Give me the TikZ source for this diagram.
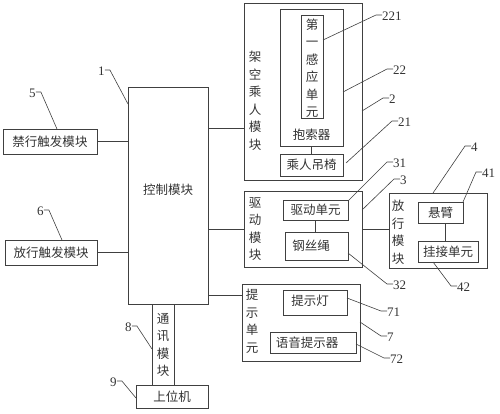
\documentclass[tikz,border=0pt]{standalone}
\usepackage{fontspec}
\setmainfont{Liberation Serif}
\newfontfamily\cjk{Noto Sans CJK SC}
\begin{document}
\begin{tikzpicture}[x=1pt,y=-1pt,
  lc/.style={draw=black!75,line width=0.7pt},
  box/.style={lc,inner sep=0pt,minimum width=#1},
  txt/.style={font=\cjk\fontsize{12.5}{17.5}\selectfont,text=black!80,inner sep=0pt,align=center},
  num/.style={font=\fontsize{13}{13}\selectfont,text=black!80,inner sep=0pt,anchor=west},
  lead/.style={draw=black!75,line width=0.6pt}]
\useasboundingbox (0,0) rectangle (500,413);
% left modules
\node[box=80pt,minimum height=217pt] (ctrl) at (168,195.5) {};
\node[txt] (ctrlt) at (168,190) {控制模块};
\node[box=22pt,minimum height=81pt] (comm) at (163,344.5) {};
\node[txt] (commt) at (163,345) {通\\讯\\模\\块};
\node[box=72pt,minimum height=23pt,txt] (host) at (172,396.5) {上位机};
\node[box=94pt,minimum height=25pt,txt] (ban) at (50,141.5) {禁行触发模块};
\node[box=92pt,minimum height=25pt,txt] (pass) at (51,252.5) {放行触发模块};
% overhead module
\node[box=118pt,minimum height=177pt] (air) at (303,91.5) {};
\node[txt] (airt) at (255,101) {架\\空\\乘\\人\\模\\块};
\node[box=63pt,minimum height=137pt] (clamp) at (311.5,77.5) {};
\node[txt] (clampt) at (311.5,135) {抱索器};
\node[box=22pt,minimum height=103pt] (sensor) at (312,66.5) {};
\node[txt] (sensort) at (312,68) {第\\一\\感\\应\\单\\元};
\node[box=63pt,minimum height=22pt,txt] (chair) at (311.5,165) {乘人吊椅};
% drive module
\node[box=118pt,minimum height=76pt] (drive) at (303,229) {};
\node[txt] (drivet) at (255,229) {驱\\动\\模\\块};
\node[box=65pt,minimum height=20pt,txt] (dunit) at (315.5,210) {驱动单元};
\node[box=63pt,minimum height=28pt] (rope) at (316.5,246) {};
\node[txt] (ropet) at (311,246) {钢丝绳};
% release module
\node[box=98pt,minimum height=75pt] (rel) at (438,230.5) {};
\node[txt] (relt) at (398,232) {放\\行\\模\\块};
\node[box=45pt,minimum height=21pt,txt] (arm) at (440.5,212.5) {悬臂};
\node[box=60pt,minimum height=21pt,txt] (hook) at (448,251.5) {挂接单元};
% prompt unit
\node[box=118pt,minimum height=77pt] (prompt) at (301,322.5) {};
\node[txt] (promptt) at (252,321) {提\\示\\单\\元};
\node[box=64pt,minimum height=25pt] (lamp) at (315,302.5) {};
\node[txt] (lampt) at (310,301) {提示灯};
\node[box=86pt,minimum height=21pt] (voice) at (313,342.5) {};
\node[txt] (voicet) at (307,342.5) {语音提示器};
% connectors
\coordinate (y1) at (0,128);
\coordinate (y2) at (0,295);
\coordinate (x1) at (445,0);
\draw[lc] (ban.east) -- (ban.east -| ctrl.west);
\draw[lc] (pass.east) -- (pass.east -| ctrl.west);
\draw[lc] (ctrl.east |- y1) -- (air.west |- y1);
\draw[lc] (ctrl.east |- drive.west) -- (drive.west);
\draw[lc] (drive.east) -- (drive.east -| rel.west);
\draw[lc] (ctrl.east |- y2) -- (prompt.west |- y2);
\draw[lc] (clamp.south) -- (clamp.south |- chair.north);
\draw[lc] (dunit.south) -- (dunit.south |- rope.north);
\draw[lc] (arm.south -| x1) -- (hook.north -| x1);
% labels
\node[num] (n221) at (382,16) {221};
\node[num] (n22) at (393,70) {22};
\node[num] (n2) at (389,99) {2};
\node[num] (n21) at (398,122) {21};
\node[num] (n31) at (393,163) {31};
\node[num] (n3) at (400,180) {3};
\node[num] (n4) at (471,147) {4};
\node[num] (n41) at (482,173) {41};
\node[num] (n32) at (393,285) {32};
\node[num] (n42) at (457,287) {42};
\node[num] (n71) at (387,312) {71};
\node[num] (n7) at (387,337) {7};
\node[num] (n72) at (390,359) {72};
\node[num] (n5) at (29,93) {5};
\node[num] (n6) at (37,211) {6};
\node[num] (n1) at (98,71) {1};
\node[num] (n8) at (125,327) {8};
\node[num] (n9) at (110,382) {9};
% leader end points
\coordinate (p221) at (323,40);
\coordinate (p22) at (343,92);
\coordinate (p2) at (362,111);
\coordinate (p21) at (346,163);
\coordinate (p31) at (348,201);
\coordinate (p3) at (362,210);
\coordinate (p4) at (433,193);
\coordinate (p41) at (463,202);
\coordinate (p32) at (348,253);
\coordinate (p42) at (433,262);
\coordinate (p71) at (347,298);
\coordinate (p7) at (360,322);
\coordinate (p72) at (356,344);
\coordinate (p5) at (57,129);
\coordinate (p6) at (62,240);
\coordinate (p1) at (128,104);
\coordinate (p8) at (152,349);
\coordinate (p9) at (136,398);
\foreach \n in {221,22,2,21,31,3,4,41}
  \draw[lead] (n\n.west) ++(0,-1) -- ++(-6,0) -- (p\n);
\foreach \n in {32,42,71,7,72}
  \draw[lead] (n\n.west) ++(0,-1) -- ++(-6,0) -- (p\n);
\foreach \n in {5,6,1,8,9}
  \draw[lead] (n\n.east) ++(0,-1) -- ++(5,0) -- (p\n);
\end{tikzpicture}
\end{document}
